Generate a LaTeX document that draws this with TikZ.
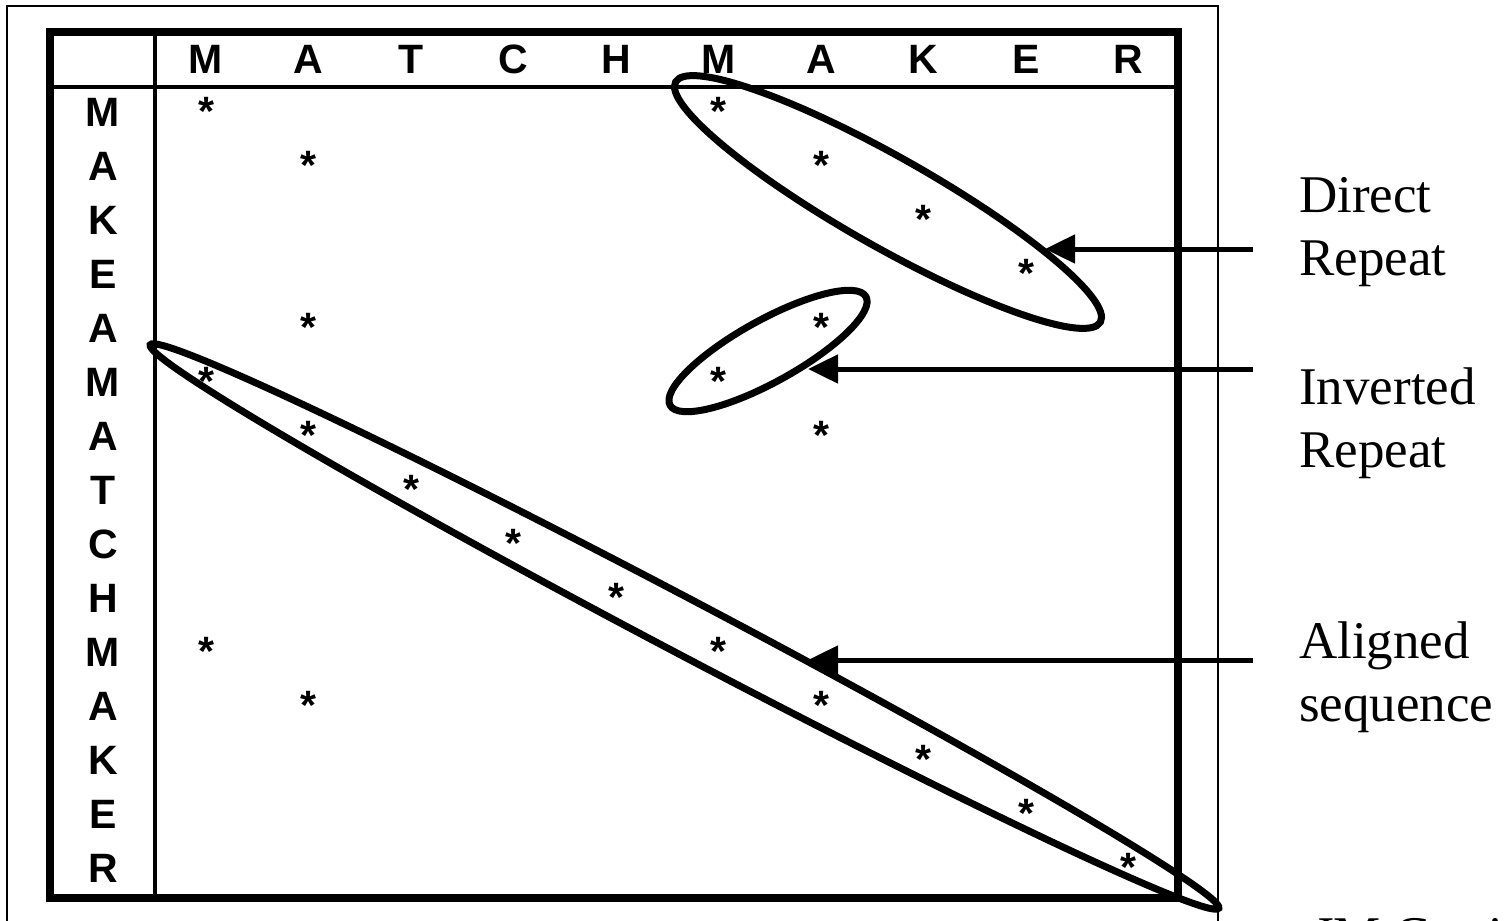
\documentclass[tikz,border=0pt]{standalone}
\usepackage{fontspec}
\setmainfont{Liberation Serif}
\setsansfont{Liberation Sans}
\usetikzlibrary{arrows.meta}
\begin{document}
\begin{tikzpicture}[x=1pt,y=-1pt,
  hdr/.style={font=\sffamily\bfseries\fontsize{41}{48}\selectfont, inner sep=0pt, anchor=base},
  starmark/.style={font=\sffamily\bfseries\fontsize{41}{48}\selectfont, inner sep=0pt, anchor=base},
  lab/.style={font=\fontsize{53}{63}\selectfont, inner sep=0pt, anchor=base west},
  ell/.style={line width=7pt},
  arr/.style={line width=5pt, -{Triangle[length=30pt,width=28pt]}}]
\useasboundingbox (0,0) rectangle (1505,921);
\clip (0,0) rectangle (1505,921);
% outer thin frame
\draw[line width=2pt] (7,6) rectangle (1218,980);
% table frame
\draw[line width=8pt] (50,32) rectangle (1178,898);
\draw[line width=4pt] (50,87) -- (1178,87);
\draw[line width=4pt] (155,32) -- (155,898);
% column headers
\foreach \L [count=\i from 0] in {M,A,T,C,H,M,A,K,E,R}
  \node[hdr] (c\i) at (206+102.5*\i,73) {\L};
% row headers
\foreach \L [count=\i from 0] in {M,A,K,E,A,M,A,T,C,H,M,A,K,E,R}
  \node[hdr] (r\i) at (103,126+54.07*\i) {\L};
% stars
\foreach \r/\c in {0/0,0/5,1/1,1/6,2/7,3/8,4/1,4/6,5/0,5/5,6/1,6/6,7/2,8/3,9/4,10/0,10/5,11/1,11/6,12/7,13/8,14/9}
  \node[starmark] (s\r-\c) at (206+102.5*\c,125+54.07*\r) {*};
% ellipses
\draw[ell, rotate around={-29.5:(888,202)}] (888,202) ellipse [x radius=244, y radius=45];
\draw[ell, rotate around={29:(768,351)}] (768,351) ellipse [x radius=112, y radius=31];
\draw[ell, rotate around={-27.8:(684.5,626.5)}] (684.5,626.5) ellipse [x radius=604, y radius=27];
% labels
\node[lab] (l1) at (1299,212) {Direct};
\node[lab] (l2) at (1299,275) {Repeat};
\node[lab] (l3) at (1299,404) {Inverted};
\node[lab] (l4) at (1299,467) {Repeat};
\node[lab] (l5) at (1299,658) {Aligned};
\node[lab] (l6) at (1299,721) {sequence};
\node[lab] (cite) at (1313,953) {JM Cortie};
% arrows
\coordinate (a1s) at (1253,249); \coordinate (a1e) at (1045,249);
\coordinate (a2s) at (1253,369); \coordinate (a2e) at (808,369);
\coordinate (a3s) at (1253,660); \coordinate (a3e) at (808,660);
\draw[arr] (a1s) -- (a1e);
\draw[arr] (a2s) -- (a2e);
\draw[arr] (a3s) -- (a3e);
\end{tikzpicture}
\end{document}
